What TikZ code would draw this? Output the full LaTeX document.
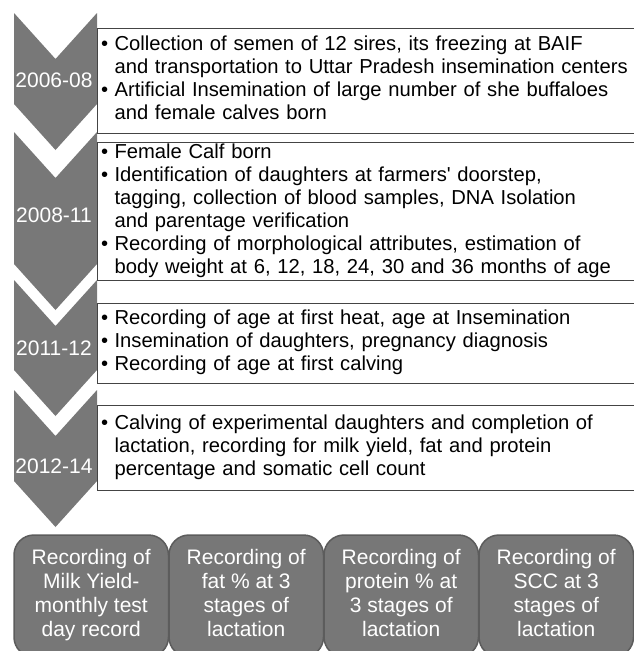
\documentclass[tikz,border=0pt]{standalone}
\usepackage{fontspec}
\setmainfont{Liberation Sans}[Ligatures=TeXOff]
\usetikzlibrary{positioning}
\definecolor{chevgray}{HTML}{787878}
\definecolor{boxgray}{HTML}{777777}
\definecolor{boxline}{HTML}{5C5C5C}
\definecolor{ruleline}{HTML}{444444}
\newcommand{\stagelist}[1]{\noindent\begin{tabular}{@{\hspace{1pt}}l@{\hspace{6.5pt}}l@{}}#1\end{tabular}}
\tikzset{
     timeline/.style={x=1pt, y=-1pt, font=\fontsize{20.2}{23}\selectfont},
     chev/.style={fill=chevgray, draw=none},
     year/.style={text=white, inner sep=0pt, font=\fontsize{21}{24}\selectfont},
     % boxes with the bullet lists, right side runs off the page
     stage/.style={draw=ruleline, line width=1pt, anchor=north west, outer sep=0pt,
        text width=534pt, inner xsep=3pt, inner ysep=0pt, align=left, minimum height=#1},
     rec/.style={fill=boxgray, draw=boxline, line width=1.5pt, rounded corners=20pt,
        minimum width=154.5pt, minimum height=122pt, inner sep=0pt, outer sep=0pt,
        text=white, align=center, font=\fontsize{21}{24}\selectfont,
        execute at end node=\strut},
     node distance=0.5pt
  }
\begin{document}
\begin{tikzpicture}[timeline]
  \useasboundingbox (0,0) rectangle (633,651);
  \foreach \top/\bot in {13/104, 132/264, 280/370, 390/481}
    \fill[chev] (14,\top) -- (55.5,\top+46) -- (97,\top) -- (97,\bot)
      -- (55.5,\bot+46) -- (14,\bot) -- cycle;
  \node[year] (y0608) at (54,80) {2006-08};
  \node[year] (y0811) at (54,215) {2008-11};
  \node[year] (y1112) at (54,348) {2011-12};
  \node[year] (y1214) at (54,466) {2012-14};
%
  \node[stage=105pt] (semen) at (97,28) {\stagelist{%
    \textbullet & Collection of semen of 12 sires, its freezing at BAIF\\
     & and transportation to Uttar Pradesh insemination centers\\
    \textbullet & Artificial Insemination of large number of she buffaloes\\
     & and female calves born}};
  \node[stage=138pt] (daughter) at (97,142) {\stagelist{%
    \textbullet & Female Calf born\\
    \textbullet & Identification of daughters at farmers' doorstep,\\
     & tagging, collection of blood samples, DNA Isolation\\
     & and parentage verification\\
    \textbullet & Recording of morphological attributes, estimation of\\
     & body weight at 6, 12, 18, 24, 30 and 36 months of age}};
  \node[stage=80pt] (heat) at (97,303) {\stagelist{%
    \textbullet & Recording of age at first heat, age at Insemination\\
    \textbullet & Insemination of daughters, pregnancy diagnosis\\
    \textbullet & Recording of age at first calving}};
  \node[stage=85pt] (calving) at (97,405) {\stagelist{%
    \textbullet & Calving of experimental daughters and completion of\\
     & lactation, recording for milk yield, fat and protein\\
     & percentage and somatic cell count}};
%
  \node[rec] (milk) at (91.25,596) {Recording of\\Milk Yield-\\monthly test\\day record};
  \node[rec, right=of milk] (fat) {Recording of\\fat \% at 3\\stages of\\lactation};
  \node[rec, right=of fat] (protein) {Recording of\\protein \% at\\3 stages of\\lactation};
  \node[rec, right=of protein] (scc) {Recording of\\SCC at 3\\stages of\\lactation};
\end{tikzpicture}
\end{document}
